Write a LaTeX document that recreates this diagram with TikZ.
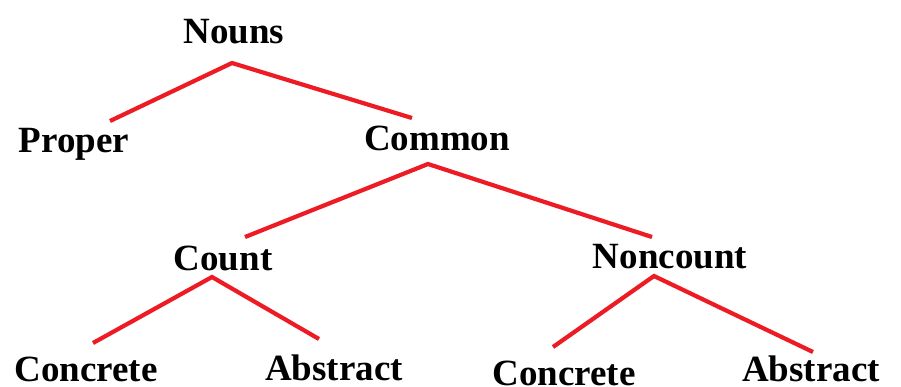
\documentclass[tikz,border=0pt]{standalone}
\usepackage{fontspec}
\setmainfont{Liberation Serif}
\definecolor{branchred}{RGB}{237,28,36}
\begin{document}
\begin{tikzpicture}[x=1pt,y=-1pt,
    word/.style={anchor=base,inner sep=0pt,font=\fontsize{37}{40}\selectfont\bfseries},
    branch/.style={draw=branchred,line width=4.2pt,line join=miter}]
      \useasboundingbox (0,0) rectangle (901,386);
      \node[word] (nouns) at (234,43) {Nouns};
      \node[word] (proper) at (74,152) {Proper};
      \node[word] (common) at (437,150) {Common};
      \node[word] (count) at (223,270) {Count};
      \node[word] (noncount) at (670,268) {Noncount};
      \node[word] (concreteA) at (86,381) {Concrete};
      \node[word] (abstractA) at (334,380) {Abstract};
      \node[word] (concreteB) at (564,385) {Concrete};
      \node[word] (abstractB) at (811,381) {Abstract};
      % joints and branch ends
      \coordinate (nouns-j) at (232,63);
      \coordinate (proper-t) at (110,121);
      \coordinate (common-t) at (412,118);
      \coordinate (common-j) at (428,164);
      \coordinate (count-t) at (245,237);
      \coordinate (noncount-t) at (652,237);
      \coordinate (count-j) at (212,277);
      \coordinate (concreteA-t) at (93,343);
      \coordinate (abstractA-t) at (319,339);
      \coordinate (noncount-j) at (654,276);
      \coordinate (concreteB-t) at (553,347);
      \coordinate (abstractB-t) at (813,352);
      \begin{scope}[branch]
        \draw (proper-t) -- (nouns-j) -- (common-t);
        \draw (count-t) -- (common-j) -- (noncount-t);
        \draw (concreteA-t) -- (count-j) -- (abstractA-t);
        \draw (concreteB-t) -- (noncount-j) -- (abstractB-t);
      \end{scope}
    \end{tikzpicture}
\end{document}
